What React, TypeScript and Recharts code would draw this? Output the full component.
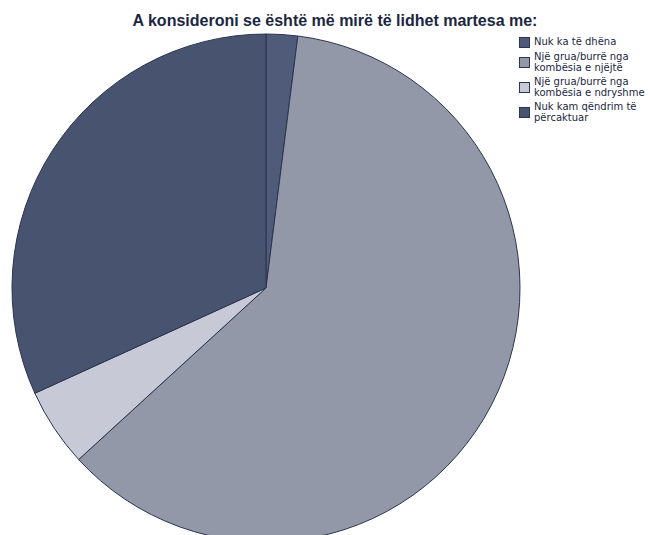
import { PieChart, Pie, Cell } from 'recharts';

const categories = [
  'Nuk ka të dhëna',
  'Një grua/burrë nga kombësia e njëjtë',
  'Një grua/burrë nga kombësia e ndryshme',
  'Nuk kam qëndrim të përcaktuar',
];
const legendLines = [
  ['Nuk ka të dhëna'],
  ['Një grua/burrë nga', 'kombësia e njëjtë'],
  ['Një grua/burrë nga', 'kombësia e ndryshme'],
  ['Nuk kam qëndrim të', 'përcaktuar'],
];
const values = [2.0, 61.2, 5.0, 31.8];
const colors = ['#4f5b78', '#9298a8', '#c8c9d6', '#47536f'];

const title = 'A konsideroni se është më mirë të lidhet martesa me:';

const data = categories.map((name, i) => ({ name, value: values[i] }));

export default function App() {
  return (
    <div style={{ position: 'relative', width: 650, height: 535, background: '#fff', overflow: 'hidden' }}>
      <style>{`body { margin: 0; }`}</style>
      <div
        style={{
          position: 'absolute',
          top: 12,
          left: 0,
          width: 670,
          textAlign: 'center',
          fontFamily: '"Liberation Sans", Arial, sans-serif',
          fontWeight: 'bold',
          fontSize: 16,
          color: '#1b2742',
          zIndex: 2,
        }}
      >
        {title}
      </div>
      <PieChart width={650} height={535} margin={{ top: 0, right: 0, bottom: 0, left: 0 }}>
        <Pie
          data={data}
          dataKey="value"
          nameKey="name"
          cx={266}
          cy={288}
          outerRadius={254}
          startAngle={90}
          endAngle={-270}
          stroke="#2b3550"
          strokeWidth={1}
          isAnimationActive={false}
        >
          {data.map((d, i) => (
            <Cell key={d.name} fill={colors[i]} />
          ))}
        </Pie>
      </PieChart>
      <div
        style={{
          position: 'absolute',
          top: 37,
          left: 519,
          fontFamily: 'DejaVu Sans, sans-serif',
          fontSize: 10,
          lineHeight: '10.5px',
          color: '#1b2742',
          display: 'flex',
          flexDirection: 'column',
          gap: 4,
        }}
      >
        {legendLines.map((lines, i) => (
          <div key={i} style={{ display: 'flex', alignItems: 'center' }}>
            <div
              style={{
                width: 9,
                height: 9,
                background: colors[i],
                border: '1px solid #2b3550',
                marginRight: 4,
                flexShrink: 0,
              }}
            />
            <div style={{ whiteSpace: 'nowrap' }}>
              {lines.map((l) => (
                <div key={l}>{l}</div>
              ))}
            </div>
          </div>
        ))}
      </div>
    </div>
  );
}
